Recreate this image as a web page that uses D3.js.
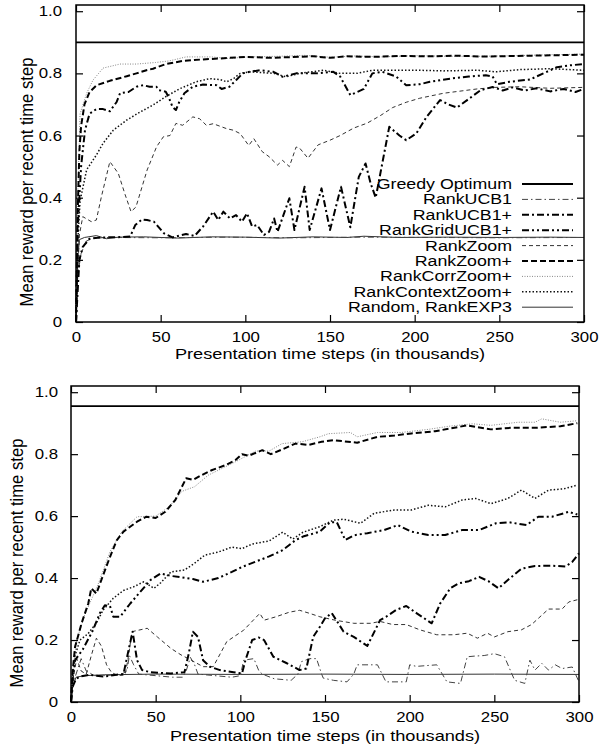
<!DOCTYPE html>
<html><head><meta charset="utf-8">
<script src="https://cdn.jsdelivr.net/npm/d3@7"></script>
<style>html,body{margin:0;padding:0;background:#fff;} svg{display:block;}</style>
</head><body>
<svg id="chart" width="601" height="746"></svg>
<script>
// ---------- data (x in thousands of presentation time steps, y = mean reward) ----------
const xTicks = [0, 50, 100, 150, 200, 250, 300];
const yTicks = [0, 0.2, 0.4, 0.6, 0.8, 1.0];
const yTickLabels = ["0", "0.2", "0.4", "0.6", "0.8", "1.0"];
const seriesNames = ["Greedy Optimum", "RankUCB1", "RankUCB1+", "RankGridUCB1+", "RankZoom",
  "RankZoom+", "RankCorrZoom+", "RankContextZoom+", "Random, RankEXP3"];
const yLabel = "Mean reward per recent time step";
const xLabel = "Presentation time steps (in thousands)";

// top panel
const topGreedy = [[0, 0.90], [300, 0.90]];
const topRandom = [[0,0],[1,0.2],[2,0.265],[5,0.272],[12,0.278],[18,0.268],[25,0.273],[40,0.274],[60,0.27],[80,0.274],[100,0.273],[120,0.27],[140,0.274],[160,0.272],[170,0.276],[190,0.272],[220,0.273],[250,0.272],[280,0.273],[300,0.272]];
const topUCB1 = [[0,0],[1,0.15],[3,0.22],[6,0.26],[10,0.27],[20,0.272],[50,0.271],[90,0.273],[130,0.271],[170,0.273],[210,0.272],[250,0.271],[300,0.272]];
const topUCB1p = [[0,0],[2,0.2],[4,0.242],[8,0.268],[15,0.272],[25,0.273],[32,0.275],[35,0.312],[39,0.33],[42,0.328],[46,0.323],[52,0.285],[57,0.272],[61,0.278],[65,0.283],[70,0.277],[75,0.307],[81,0.355],[84,0.328],[87,0.355],[91,0.333],[94.5,0.344],[98,0.323],[101,0.35],[104,0.307],[107,0.312],[111,0.28],[114,0.29],[117,0.333],[119,0.29],[126,0.398],[129,0.296],[135,0.435],[138,0.296],[145,0.43],[150,0.296],[156.5,0.435],[162,0.305],[167,0.467],[171,0.51],[174,0.446],[177,0.40],[185,0.628],[191,0.60],[195,0.585],[201,0.607],[207,0.66],[215,0.714],[220,0.70],[225,0.69],[231,0.714],[239,0.746],[246,0.756],[252,0.745],[258,0.755],[265,0.745],[272,0.752],[280,0.742],[288,0.75],[295,0.74],[300,0.75]];
const topGridUCB1p = [[0,0],[1,0.3],[3,0.5],[5.3,0.617],[8,0.67],[12,0.685],[16,0.685],[20,0.678],[24,0.708],[26,0.736],[31,0.74],[35.7,0.757],[39.6,0.762],[43.5,0.757],[47.5,0.757],[49,0.746],[53,0.741],[55,0.72],[57,0.692],[59,0.682],[61,0.708],[64,0.736],[69,0.757],[75,0.764],[83,0.762],[86,0.75],[90.6,0.757],[94.5,0.778],[98.5,0.80],[102.5,0.805],[108.7,0.81],[116.6,0.805],[122,0.789],[130,0.80],[142,0.80],[152,0.805],[156,0.79],[162,0.73],[170,0.75],[175,0.80],[181,0.805],[189,0.79],[195,0.762],[203,0.765],[209,0.773],[221,0.783],[232,0.79],[242,0.794],[246,0.79],[248.6,0.765],[256,0.773],[268,0.78],[276,0.80],[284,0.82],[292,0.826],[300,0.83]];
const topZoom = [[0,0],[1,0.15],[2,0.28],[4,0.339],[9,0.323],[12,0.328],[15,0.403],[20,0.516],[25,0.478],[29,0.41],[32.5,0.355],[35.4,0.37],[42,0.489],[47.6,0.564],[51.6,0.596],[55.5,0.60],[59,0.639],[63,0.633],[69,0.66],[73,0.654],[77,0.633],[81,0.638],[89,0.622],[93,0.617],[97,0.606],[102,0.568],[105,0.59],[110,0.548],[114,0.532],[119,0.505],[122,0.52],[126,0.50],[130,0.563],[132,0.56],[137,0.527],[143,0.57],[150,0.585],[156,0.60],[164,0.624],[172,0.64],[180,0.665],[187,0.69],[195,0.707],[203,0.72],[217,0.736],[237,0.75],[248,0.755],[262,0.757],[280,0.752],[300,0.755]];
const topZoomP = [[0,0],[1,0.35],[2,0.55],[3,0.63],[5,0.70],[8,0.74],[12.2,0.762],[20,0.776],[30,0.791],[35.7,0.80],[41.6,0.81],[45.5,0.815],[53,0.83],[63,0.84],[75,0.845],[85,0.848],[100,0.853],[115,0.85],[125,0.852],[140,0.855],[150,0.85],[160,0.855],[175,0.853],[190,0.856],[210,0.855],[225,0.857],[240,0.854],[260,0.856],[280,0.858],[300,0.86]];
const topCorrZoomP = [[0,0],[1,0.4],[2.4,0.67],[6.3,0.736],[10,0.778],[16,0.817],[26,0.83],[35.7,0.83],[47,0.835],[55,0.84],[65,0.853],[80,0.853],[90,0.848],[102,0.853],[120,0.855],[135,0.858],[150,0.852],[165,0.856],[180,0.853],[200,0.857],[220,0.855],[240,0.855],[260,0.857],[280,0.86],[300,0.862]];
const topContextZoomP = [[0,0],[1,0.25],[2.4,0.39],[6.3,0.49],[12,0.537],[16,0.575],[22,0.617],[30,0.65],[38,0.676],[45.5,0.698],[53,0.725],[61,0.75],[71,0.773],[79,0.783],[85,0.78],[89,0.773],[93,0.783],[97,0.80],[102.6,0.805],[117,0.80],[124,0.789],[132,0.80],[146,0.81],[156,0.80],[166,0.80],[175,0.81],[185,0.81],[203,0.81],[217,0.808],[237,0.81],[248,0.805],[262,0.812],[280,0.815],[300,0.81]];

// bottom panel
const botGreedy = [[0, 0.955], [300, 0.955]];
const botRandom = [[0,0],[1,0.05],[3,0.08],[8,0.085],[20,0.088],[50,0.09],[100,0.089],[150,0.09],[200,0.089],[250,0.09],[300,0.089]];
const botUCB1 = [[0,0],[1,0.06],[3,0.09],[6,0.14],[9,0.1],[14,0.085],[20,0.085],[30,0.09],[33,0.1],[34.5,0.15],[37,0.12],[40,0.09],[50,0.085],[60,0.08],[66,0.08],[68,0.1],[70.5,0.144],[73,0.12],[75,0.09],[85,0.085],[95,0.08],[100,0.085],[102,0.135],[108,0.14],[111,0.1],[113,0.09],[120,0.075],[130,0.07],[134,0.09],[136,0.13],[141,0.14],[145,0.14],[148,0.09],[149,0.077],[155,0.07],[163,0.065],[167,0.09],[169,0.12],[181,0.12],[186,0.065],[198,0.065],[200,0.12],[204,0.115],[216,0.12],[222,0.065],[230,0.06],[234,0.146],[238,0.148],[244,0.15],[250,0.156],[256,0.146],[262,0.07],[268,0.06],[271,0.135],[274,0.103],[278,0.125],[282,0.103],[286,0.12],[290,0.108],[296,0.113],[300,0.065]];
const botUCB1p = [[0,0],[1,0.05],[3,0.075],[5.3,0.082],[11,0.088],[19,0.082],[27,0.088],[31,0.09],[34,0.168],[36.4,0.227],[39,0.135],[42,0.103],[47,0.096],[59,0.092],[67,0.096],[69.5,0.155],[72,0.227],[75,0.21],[78,0.135],[82,0.114],[88,0.103],[96,0.096],[101,0.092],[103,0.135],[107,0.20],[111,0.208],[114,0.20],[119.5,0.146],[127.5,0.125],[135,0.103],[139,0.108],[143,0.21],[147,0.243],[150,0.27],[154,0.287],[161,0.227],[167,0.21],[175,0.181],[182.5,0.264],[186,0.275],[192,0.297],[198,0.31],[204,0.287],[213,0.254],[218,0.318],[224,0.367],[229,0.383],[235,0.39],[241,0.404],[246.5,0.39],[252.5,0.367],[258,0.394],[266,0.43],[274,0.439],[284,0.44],[292,0.437],[296,0.452],[300,0.48]];
const botGridUCB1p = [[0,0],[1,0.08],[2.4,0.135],[7,0.17],[13,0.232],[17,0.286],[20,0.312],[23,0.31],[25,0.275],[29,0.275],[35,0.318],[41,0.356],[47,0.394],[53,0.415],[59,0.407],[64.6,0.403],[72,0.397],[78,0.388],[87,0.40],[95,0.42],[101,0.436],[109,0.453],[117,0.47],[125,0.49],[132.7,0.523],[137,0.534],[147,0.55],[153,0.58],[157,0.58],[162,0.523],[167,0.538],[175,0.545],[185,0.555],[193,0.571],[201,0.55],[211,0.539],[221,0.539],[231,0.555],[241,0.555],[251,0.577],[259,0.58],[269,0.571],[276,0.598],[284,0.598],[294,0.614],[299,0.605]];
const botZoom = [[0,0],[2,0.1],[3.4,0.14],[6,0.1],[9,0.09],[12,0.15],[15,0.206],[18,0.18],[21,0.12],[24,0.095],[28,0.085],[32,0.088],[34,0.15],[36,0.227],[45,0.238],[51,0.21],[59,0.173],[65,0.152],[71,0.135],[78,0.114],[84,0.114],[92,0.195],[102,0.232],[111.5,0.286],[114,0.264],[121,0.275],[129,0.29],[135,0.296],[141,0.286],[147,0.275],[156,0.264],[167,0.254],[177,0.254],[182.5,0.26],[190,0.25],[198,0.25],[206,0.233],[216,0.217],[226,0.217],[234,0.222],[240,0.206],[246,0.222],[250,0.21],[258,0.227],[266,0.233],[272,0.25],[276,0.27],[282,0.30],[290,0.30],[294,0.323],[299,0.33]];
const botZoomP = [[0,0],[1,0.1],[2.4,0.178],[6.3,0.255],[10.2,0.318],[12,0.367],[15,0.35],[19,0.41],[23,0.468],[27,0.522],[31,0.55],[39,0.582],[44.5,0.598],[50,0.594],[55.7,0.614],[61.6,0.652],[65.5,0.695],[68,0.722],[72,0.717],[77,0.732],[83,0.748],[91,0.764],[97,0.78],[101,0.80],[105,0.795],[113,0.813],[118,0.80],[124.6,0.815],[132.5,0.834],[140.5,0.83],[148,0.84],[155,0.845],[169,0.837],[181,0.856],[191,0.86],[201,0.867],[215,0.874],[234,0.893],[248,0.88],[260,0.885],[274,0.885],[289,0.89],[299,0.90]];
const botCorrZoomP = [[0,0],[1,0.1],[3.4,0.2],[8,0.28],[12,0.33],[16,0.38],[23,0.485],[30,0.55],[39,0.598],[50,0.60],[58,0.63],[65.5,0.68],[73,0.695],[81,0.732],[97,0.775],[109,0.81],[117,0.81],[124.6,0.834],[136.5,0.84],[147,0.856],[152,0.866],[165,0.87],[169,0.856],[181,0.87],[195,0.87],[211,0.88],[223,0.89],[237,0.898],[248,0.893],[264,0.903],[274,0.903],[278,0.914],[289,0.903],[299,0.908]];
const botContextZoomP = [[0,0],[1,0.08],[2.4,0.15],[5.3,0.2],[10,0.22],[15,0.255],[19,0.297],[25,0.335],[31,0.36],[37,0.372],[43,0.388],[49,0.367],[53,0.385],[59,0.42],[67,0.426],[73,0.448],[79,0.474],[87,0.484],[95,0.50],[101,0.495],[107,0.51],[117,0.52],[125,0.548],[131,0.526],[137,0.548],[147,0.566],[155,0.587],[161,0.59],[171,0.577],[179,0.609],[191,0.62],[201,0.62],[211,0.635],[221,0.63],[231,0.652],[239,0.657],[248,0.64],[258,0.657],[266,0.684],[274,0.657],[282,0.684],[291,0.688],[299,0.70]];

// ---------- styles ----------
const FONT = "'Liberation Sans', Arial, Helvetica, sans-serif";
const styles = {
  "Greedy Optimum":   {w: 1.8, dash: null,          color: "#000"},
  "RankUCB1":         {w: 1,   dash: "6,3,1.5,3",   color: "#444"},
  "RankUCB1+":        {w: 2,   dash: "7,3,2,3",     color: "#000"},
  "RankGridUCB1+":    {w: 2,   dash: "7,3,2,3,2,3", color: "#000"},
  "RankZoom":         {w: 1,   dash: "4,3",         color: "#333"},
  "RankZoom+":        {w: 2,   dash: "6,3",         color: "#000"},
  "RankCorrZoom+":    {w: 1,   dash: "1,1.5",       color: "#888"},
  "RankContextZoom+": {w: 1.5, dash: "1.5,2",       color: "#111"},
  "Random, RankEXP3": {w: 1,   dash: null,          color: "#333"}
};

const svg = d3.select("#chart");

function stretchText(sel, sx) {
  sel.each(function () {
    const t = d3.select(this);
    const x = +(t.attr("x") || 0);
    t.attr("x", 0).attr("transform", `translate(${x},0) scale(${sx},1)`);
  });
}

function drawPanel(p) {
  const x = d3.scaleLinear().domain([0, 300]).range([p.left, p.right]);
  const y = d3.scaleLinear().domain([0, 1.02]).range([p.bottom, p.top]);
  const g = svg.append("g");

  const line = d3.line().x(d => x(d[0])).y(d => y(d[1]));
  const data = seriesNames.map((n, i) => ({name: n, values: p.series[i]}));
  const order = [0, 8, 1, 4, 2, 3, 7, 6, 5];
  order.forEach(i => {
    const s = data[i], st = styles[s.name];
    if (!s.values) return;
    g.append("path").datum(s.values)
      .attr("d", line).attr("fill", "none")
      .attr("stroke", st.color).attr("stroke-width", st.w)
      .attr("stroke-dasharray", st.dash)
      .attr("stroke-linejoin", "round");
  });

  const styleAxis = a => {
    a.select(".domain").remove();
    a.selectAll("line").attr("stroke", "#000").attr("stroke-width", 1.2);
    a.attr("font-size", 14).attr("font-family", FONT);
    a.selectAll("text").attr("fill", "#000");
  };
  g.append("g").attr("transform", `translate(${p.left},0)`)
    .call(d3.axisLeft(y).tickValues(yTicks).tickFormat((d, i) => yTickLabels[i])
      .tickSizeInner(-7).tickSizeOuter(0).tickPadding(p.yPad))
    .call(styleAxis)
    .call(a => stretchText(a.selectAll("text"), 1.2));
  g.append("g").attr("transform", `translate(${p.right},0)`)
    .call(d3.axisRight(y).tickValues(yTicks).tickFormat("").tickSizeInner(-7).tickSizeOuter(0))
    .call(styleAxis);
  g.append("g").attr("transform", `translate(0,${p.bottom})`)
    .call(d3.axisBottom(x).tickValues(xTicks).tickFormat(d3.format("d"))
      .tickSizeInner(-7).tickSizeOuter(0).tickPadding(10))
    .call(styleAxis)
    .call(a => stretchText(a.selectAll("text"), 1.2));
  g.append("g").attr("transform", `translate(0,${p.top})`)
    .call(d3.axisTop(x).tickValues(xTicks).tickFormat("").tickSizeInner(-7).tickSizeOuter(0))
    .call(styleAxis);

  g.append("rect").attr("x", p.left).attr("y", p.top)
    .attr("width", p.right - p.left).attr("height", p.bottom - p.top)
    .attr("fill", "none").attr("stroke", "#000").attr("stroke-width", 1.5);

  // axis titles
  g.append("text").attr("font-family", FONT).attr("font-size", 14).attr("text-anchor", "middle")
    .attr("transform", `translate(${(p.left + p.right) / 2},${p.xLabelY}) scale(1.3,1)`)
    .text(xLabel);
  g.append("text").attr("font-family", FONT).attr("font-size", 14).attr("text-anchor", "middle")
    .attr("transform", `translate(${p.yLabelX},${p.yLabelY}) rotate(-90) scale(1.19,1.29)`)
    .text(yLabel);

  if (p.legend) {
    const lg = g.append("g");
    seriesNames.forEach((n, i) => {
      const cy = p.legend.y0 + i * p.legend.dy;
      const st = styles[n];
      lg.append("text").attr("font-family", FONT).attr("font-size", 14).attr("text-anchor", "end")
        .attr("transform", `translate(${p.legend.textX},${cy + 5}) scale(1.27,1)`)
        .text(n);
      lg.append("line").attr("x1", p.legend.x1).attr("x2", p.legend.x2)
        .attr("y1", cy).attr("y2", cy)
        .attr("stroke", st.color).attr("stroke-width", st.w)
        .attr("stroke-dasharray", st.dash);
    });
  }
}

drawPanel({
  left: 76, right: 584, top: 5, bottom: 322, yPad: 14,
  xLabelY: 359, yLabelX: 33, yLabelY: 182,
  series: [topGreedy, topUCB1, topUCB1p, topGridUCB1p, topZoom, topZoomP, topCorrZoomP, topContextZoomP, topRandom],
  legend: {y0: 184, dy: 15.4, textX: 512, x1: 522, x2: 573}
});
drawPanel({
  left: 71, right: 579, top: 386, bottom: 702, yPad: 13,
  xLabelY: 741, yLabelX: 23, yLabelY: 563,
  series: [botGreedy, botUCB1, botUCB1p, botGridUCB1p, botZoom, botZoomP, botCorrZoomP, botContextZoomP, botRandom],
  legend: null
});
</script>
</body></html>
